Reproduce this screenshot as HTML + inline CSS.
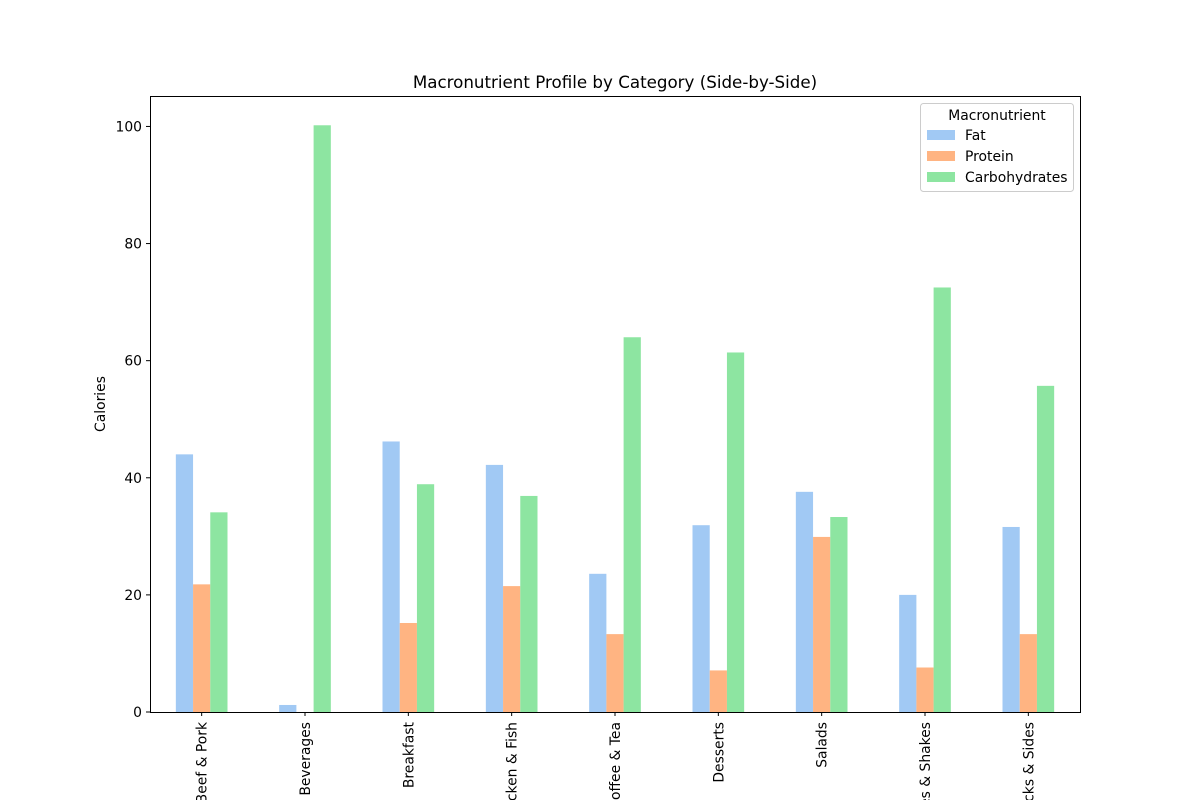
<!DOCTYPE html>
<html><head><meta charset="utf-8"><style>
html,body{margin:0;background:#fff;width:1200px;height:800px;overflow:hidden}
svg{display:block}
svg text{font-family:"DejaVu Sans","Liberation Sans",sans-serif;fill:#000}
</style></head><body>
<svg id="chart" width="1200" height="800" xmlns="http://www.w3.org/2000/svg" overflow="hidden">
<text x="615" y="88" font-size="16.7" text-anchor="middle">Macronutrient Profile by Category (Side-by-Side)</text>
<text x="0" y="0" font-size="13.9" text-anchor="middle" transform="translate(105,404) rotate(-90)">Calories</text>
<g id="bars"></g><g id="axes"></g>
<rect x="150.5" y="96.5" width="930" height="616" fill="none" stroke="#000" stroke-width="1"/>
<g>
<rect x="920.5" y="103.5" width="153" height="88" rx="3" fill="#fff" stroke="#ccc"/>
<text x="997" y="120" font-size="13.9" text-anchor="middle">Macronutrient</text>
<rect x="927" y="130" width="28" height="10" fill="#a1c9f4"/>
<text x="965" y="140" font-size="13.9">Fat</text>
<rect x="927" y="151" width="28" height="10" fill="#ffb482"/>
<text x="965" y="161" font-size="13.9">Protein</text>
<rect x="927" y="172" width="28" height="10" fill="#8de5a1"/>
<text x="965" y="182" font-size="13.9">Carbohydrates</text>
</g>
</svg>
<script>
const categories=["Beef & Pork","Beverages","Breakfast","Chicken & Fish","Coffee & Tea","Desserts","Salads","Smoothies & Shakes","Snacks & Sides"];
const fat=[44.0,1.2,46.2,42.2,23.6,31.9,37.6,20.0,31.6];
const protein=[21.8,0,15.2,21.5,13.3,7.1,29.9,7.6,13.3];
const carbs=[34.1,100.2,38.9,36.9,64.0,61.4,33.3,72.5,55.7];
const yTicks=[0,20,40,60,80,100];
const NS="http://www.w3.org/2000/svg";
const L=150,R=1080,T=96,B=712,ymax=105.2;
const y=v=>B-v/ymax*(B-T);
const step=(R-L)/categories.length;
const xc=i=>L+step*(i+0.5);
const bw=step*0.5/3;
const bars=document.getElementById('bars'),axes=document.getElementById('axes');
function mk(t,a,p){const e=document.createElementNS(NS,t);for(const k in a)e.setAttribute(k,a[k]);p.appendChild(e);return e;}
const series=[[fat,'#a1c9f4','fat'],[protein,'#ffb482','protein'],[carbs,'#8de5a1','carbohydrates']];
series.forEach((s,j)=>{s[0].forEach((v,i)=>{
 const r=mk('rect',{x:xc(i)-1.5*bw+j*bw,y:y(v),width:bw,height:B-y(v),fill:s[1]},bars);
 
 
});});
yTicks.forEach(t=>{
 mk('line',{x1:L-4,x2:L,y1:y(t),y2:y(t),stroke:'#000'},axes);
 const tx=mk('text',{x:L-8,y:y(t)+5,'font-size':13.9,'text-anchor':'end'},axes);
 tx.textContent=t;
 
 
});
categories.forEach((c,i)=>{
 mk('line',{x1:xc(i),x2:xc(i),y1:B,y2:B+4,stroke:'#000'},axes);
 const tx=mk('text',{x:0,y:0,'font-size':13.9,'text-anchor':'end',transform:`translate(${xc(i)+5},${B+10}) rotate(-90)`},axes);
 tx.textContent=c;
 
 
});
</script>
</body></html>
